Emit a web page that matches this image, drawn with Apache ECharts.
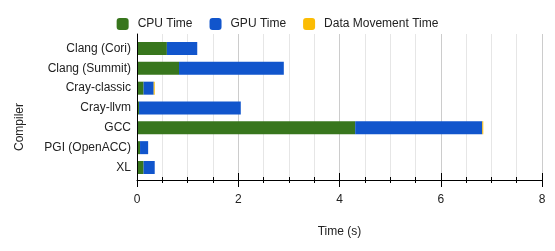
<!DOCTYPE html>
<html>
<head>
<meta charset="utf-8">
<script src="https://cdn.jsdelivr.net/npm/echarts@6/dist/echarts.min.js"></script>
<style>
html,body{margin:0;padding:0;background:#fff;}
#c{width:555px;height:251px;}
</style>
</head>
<body>
<div id="c"></div>
<script>
var categories = ['Clang (Cori)', 'Clang (Summit)', 'Cray-classic', 'Cray-llvm', 'GCC', 'PGI (OpenACC)', 'XL'];
var cpuTime = [0.59, 0.83, 0.13, 0.04, 4.31, 0.06, 0.13];
var gpuTime = [0.60, 2.07, 0.20, 2.01, 2.51, 0.16, 0.22];
var dataMovementTime = [0, 0, 0.02, 0, 0.02, 0, 0];
var xTicks = [0, 2, 4, 6, 8];

var FONT = '"Liberation Sans", Arial, sans-serif';
var TXT = '#222222';
var chart = echarts.init(document.getElementById('c'), null, {renderer: 'canvas'});

var xMin = xTicks[0], xMax = xTicks[xTicks.length - 1], xStep = xTicks[1] - xTicks[0];

chart.setOption({
  animation: false,
  textStyle: {fontFamily: FONT},
  legend: {
    left: 'center',
    top: 13,
    itemWidth: 12,
    itemHeight: 12,
    itemGap: 17,
    icon: 'roundRect',
    textStyle: {fontFamily: FONT, fontSize: 12, color: TXT, padding: [0, 0, 0, 4]},
    data: ['CPU Time', 'GPU Time', 'Data Movement Time']
  },
  graphic: [{
    type: 'text',
    x: 20, y: 127,
    rotation: Math.PI / 2,
    style: {text: 'Compiler', fill: TXT, font: '12px ' + FONT, align: 'center', verticalAlign: 'middle'}
  }],
  grid: [
    {left: 137, right: 13, top: 34, bottom: 71, containLabel: false},
    {left: 137, right: 13, top: 38.6, bottom: 73.6, containLabel: false}
  ],
  xAxis: [
    {
      gridIndex: 0, type: 'value', min: xMin, max: xMax, interval: xStep,
      name: 'Time (s)', nameLocation: 'middle', nameGap: 46,
      nameTextStyle: {fontFamily: FONT, fontSize: 12, color: TXT},
      axisLine: {show: true, lineStyle: {color: '#000', width: 1}},
      axisTick: {show: true, length: 7, lineStyle: {color: '#000'}},
      minorTick: {show: true, splitNumber: 4, length: 3, lineStyle: {color: '#000'}},
      splitLine: {show: true, lineStyle: {color: '#cccccc', width: 1}},
      minorSplitLine: {show: true, lineStyle: {color: '#e6e6e6', width: 1}},
      axisLabel: {fontFamily: FONT, fontSize: 12, color: TXT, margin: 14}
    },
    {
      gridIndex: 0, type: 'value', min: xMin, max: xMax, interval: xStep, position: 'bottom', offset: 0,
      axisLine: {show: false},
      axisTick: {show: true, inside: true, length: 7, lineStyle: {color: '#000'}},
      minorTick: {show: true, splitNumber: 4, length: 3, lineStyle: {color: '#000'}},
      splitLine: {show: false},
      axisLabel: {show: false}
    },
    {
      gridIndex: 1, type: 'value', min: xMin, max: xMax, interval: xStep, show: false
    }
  ],
  yAxis: [
    {
      gridIndex: 0, type: 'value', min: 0, max: 1, z: 10,
      axisLine: {show: true, lineStyle: {color: '#000', width: 1}},
      axisTick: {show: false}, axisLabel: {show: false}, splitLine: {show: false}
    },
    {
      gridIndex: 1, type: 'category', data: categories, inverse: true,
      axisLine: {show: false}, axisTick: {show: false},
      axisLabel: {fontFamily: FONT, fontSize: 12, color: TXT, margin: 6}
    }
  ],
  series: [
    {name: 'CPU Time', type: 'bar', stack: 't', xAxisIndex: 2, yAxisIndex: 1, barWidth: 13, itemStyle: {color: '#38761d'}, data: cpuTime},
    {name: 'GPU Time', type: 'bar', stack: 't', xAxisIndex: 2, yAxisIndex: 1, barWidth: 13, itemStyle: {color: '#1155cc'}, data: gpuTime},
    {name: 'Data Movement Time', type: 'bar', stack: 't', xAxisIndex: 2, yAxisIndex: 1, barWidth: 13, itemStyle: {color: '#fbbc04'}, data: dataMovementTime}
  ]
});
</script>
</body>
</html>
